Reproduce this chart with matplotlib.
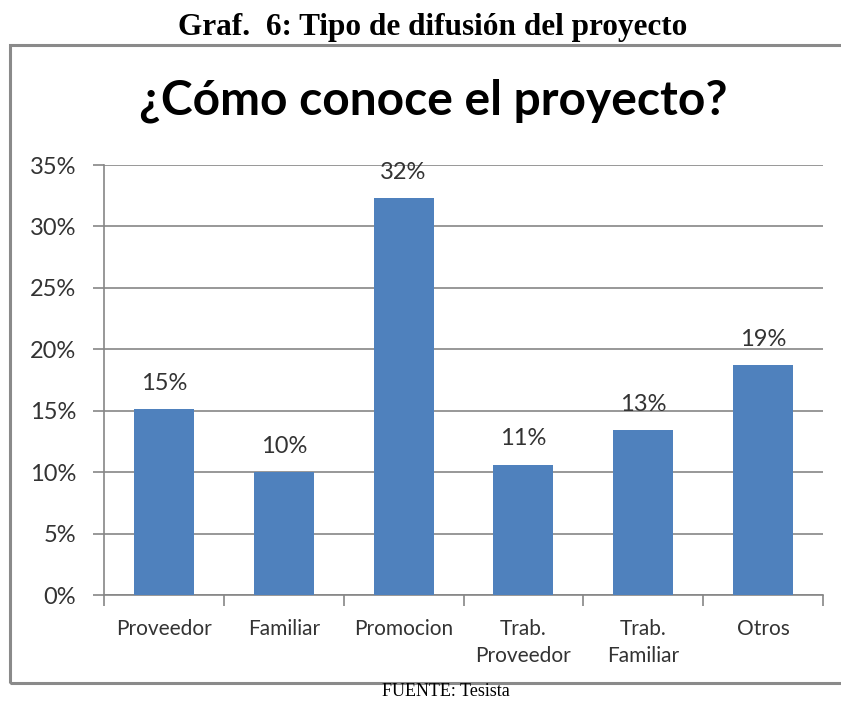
import numpy as np
import matplotlib.pyplot as plt
from matplotlib.patches import Rectangle

# datos
categorias = ['Proveedor', 'Familiar', 'Promocion', 'Trab.\nProveedor', 'Trab.\nFamiliar', 'Otros']
valores = [15.1, 10.0, 32.3, 10.6, 13.4, 18.7]
yticks = [0, 5, 10, 15, 20, 25, 30, 35]

texto = '#333333'
gris = '#868686'

fig = plt.figure(figsize=(8.41, 7.02), dpi=100)

# marco exterior del grafico
fig.patches.append(Rectangle((10 / 841, 1 - 683 / 702), 840 / 841, 638 / 702,
                             transform=fig.transFigure, fill=False,
                             edgecolor='#8a8a8a', lw=2.2))

ax = fig.add_axes([104 / 841, 1 - 595 / 702, 719 / 841, 430 / 702])

x = np.arange(len(categorias))
ax.bar(x, valores, width=0.5, color='#4F81BD', zorder=3)

for xi, v in zip(x, valores):
    ax.text(xi, v + 1.25, f'{v:.0f}%', ha='center', va='bottom',
            fontsize=17, color=texto, family='Lato')

ax.set_xlim(-0.5, len(categorias) - 0.5)
ax.set_ylim(0, 35)
ax.set_yticks(yticks)
ax.set_yticklabels([f'{v}%' for v in yticks], family='Lato', fontsize=17, color=texto)
ax.yaxis.grid(True, color=gris, lw=1.2, zorder=0)
ax.tick_params(axis='y', length=8, width=1.2, color=gris, pad=12)

ax.set_xticks(x)
ax.set_xticklabels(categorias, family='Lato', fontsize=15, color=texto, linespacing=1.45)
ax.set_xticks(np.arange(-0.5, len(categorias)), minor=True)
ax.tick_params(axis='x', which='major', length=0, pad=17)
ax.tick_params(axis='x', which='minor', length=8, width=1.2, color=gris)

for s in ['top', 'right']:
    ax.spines[s].set_visible(False)
for s in ['left', 'bottom']:
    ax.spines[s].set_color(gris)
    ax.spines[s].set_linewidth(1.2)

fig.text(433 / 841, 1 - 28 / 702, 'Graf.  6: Tipo de difusión del proyecto',
         ha='center', va='center', fontsize=22.5, fontweight='bold',
         family='Liberation Serif', color='black')
fig.text(433 / 841, 1 - 101 / 702, '¿Cómo conoce el proyecto?',
         ha='center', va='center', fontsize=34.5, fontweight='bold',
         family='Lato', color='black')
fig.text(446 / 841, 1 - 692 / 702, 'FUENTE: Tesista', ha='center', va='center',
         fontsize=13, family='Liberation Serif', color='black')

fig.savefig('out.png', dpi=100)
